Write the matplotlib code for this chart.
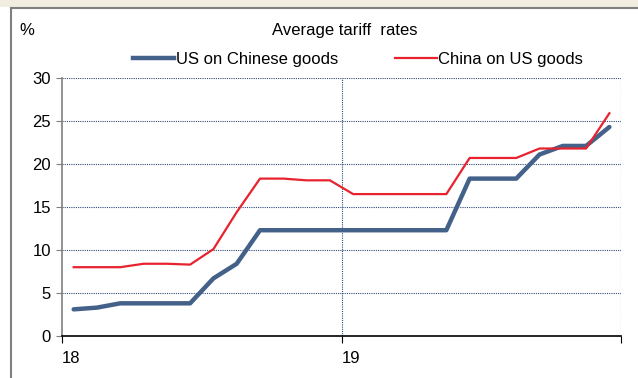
import matplotlib.pyplot as plt
from matplotlib.lines import Line2D
from matplotlib.patches import Rectangle
import numpy as np

plt.rcParams["font.family"] = ["Liberation Sans", "DejaVu Sans"]

# monthly average tariff rates, Jan 2018 .. Dec 2019 (%)
months = np.arange(24) + 0.5
us_on_china = [3.1, 3.3, 3.8, 3.8, 3.8, 3.8, 6.7, 8.4, 12.3, 12.3, 12.3, 12.3,
               12.3, 12.3, 12.3, 12.3, 12.3, 18.3, 18.3, 18.3, 21.1, 22.1, 22.1, 24.3]
china_on_us = [8.0, 8.0, 8.0, 8.4, 8.4, 8.3, 10.1, 14.4, 18.3, 18.3, 18.1, 18.1,
               16.5, 16.5, 16.5, 16.5, 16.5, 20.7, 20.7, 20.7, 21.8, 21.8, 21.8, 25.9]
year_ticks = [0, 12, 24]
year_labels = ["18", "19", ""]

BLUE = "#44618a"
RED = "#e8222e"
GRID = "#2f4a7a"

fig = plt.figure(figsize=(6.38, 3.78), dpi=100)
ax = fig.add_axes([0.0972, 0.1111, 0.8762, 0.6826])

# chart frame: beige strip on top, grey border line top and left
fig.patches.append(Rectangle((0, 0.981), 1, 0.019, transform=fig.transFigure,
                             facecolor="#f1ede1", edgecolor="none"))
fig.add_artist(Line2D([0.017, 1.0], [0.979, 0.979], transform=fig.transFigure,
                      color="#7f7f7f", lw=1.5))
fig.add_artist(Line2D([0.017, 0.017], [0.0, 0.979], transform=fig.transFigure,
                      color="#7f7f7f", lw=1.5))

ax.plot(months, us_on_china, color=BLUE, lw=3.2, solid_capstyle="round",
        solid_joinstyle="round")
ax.plot(months, china_on_us, color=RED, lw=1.6)

ax.set_xlim(0, 24)
ax.set_ylim(0, 30)
ax.set_yticks(np.arange(0, 31, 5))
ax.set_xticks(year_ticks)
ax.set_xticklabels(year_labels, ha="left")
ax.tick_params(axis="x", direction="out", length=5, color="black", pad=6,
               labelsize=12)
ax.tick_params(axis="y", direction="out", length=4, color="#7f7f7f", pad=4,
               labelsize=12)

for y in range(5, 31, 5):
    ax.axhline(y, color=GRID, lw=0.8, ls=(0, (1, 1)), zorder=0)
for x in (12, 24):
    ax.axvline(x, color=GRID, lw=0.8, ls=(0, (1, 1)), zorder=0)

for s in ("top", "right"):
    ax.spines[s].set_visible(False)
ax.spines["left"].set_color("#7f7f7f")
ax.spines["left"].set_linewidth(1.2)
ax.spines["bottom"].set_color("black")
ax.spines["bottom"].set_linewidth(1.2)

fig.text(0.541, 0.918, "Average tariff  rates", ha="center", va="center",
         fontsize=12)
fig.text(0.031, 0.918, "%", ha="left", va="center", fontsize=12)

handles = [Line2D([], [], color=BLUE, lw=3.2),
           Line2D([], [], color=RED, lw=1.6)]
fig.legend(handles, ["US on Chinese goods", "China on US goods"],
           loc="center", bbox_to_anchor=(0.561, 0.843), ncol=2, frameon=False,
           fontsize=12, handlelength=2.5, handletextpad=0.1,
           columnspacing=3.4, borderpad=0, borderaxespad=0)

fig.savefig("out.png", dpi=100)
